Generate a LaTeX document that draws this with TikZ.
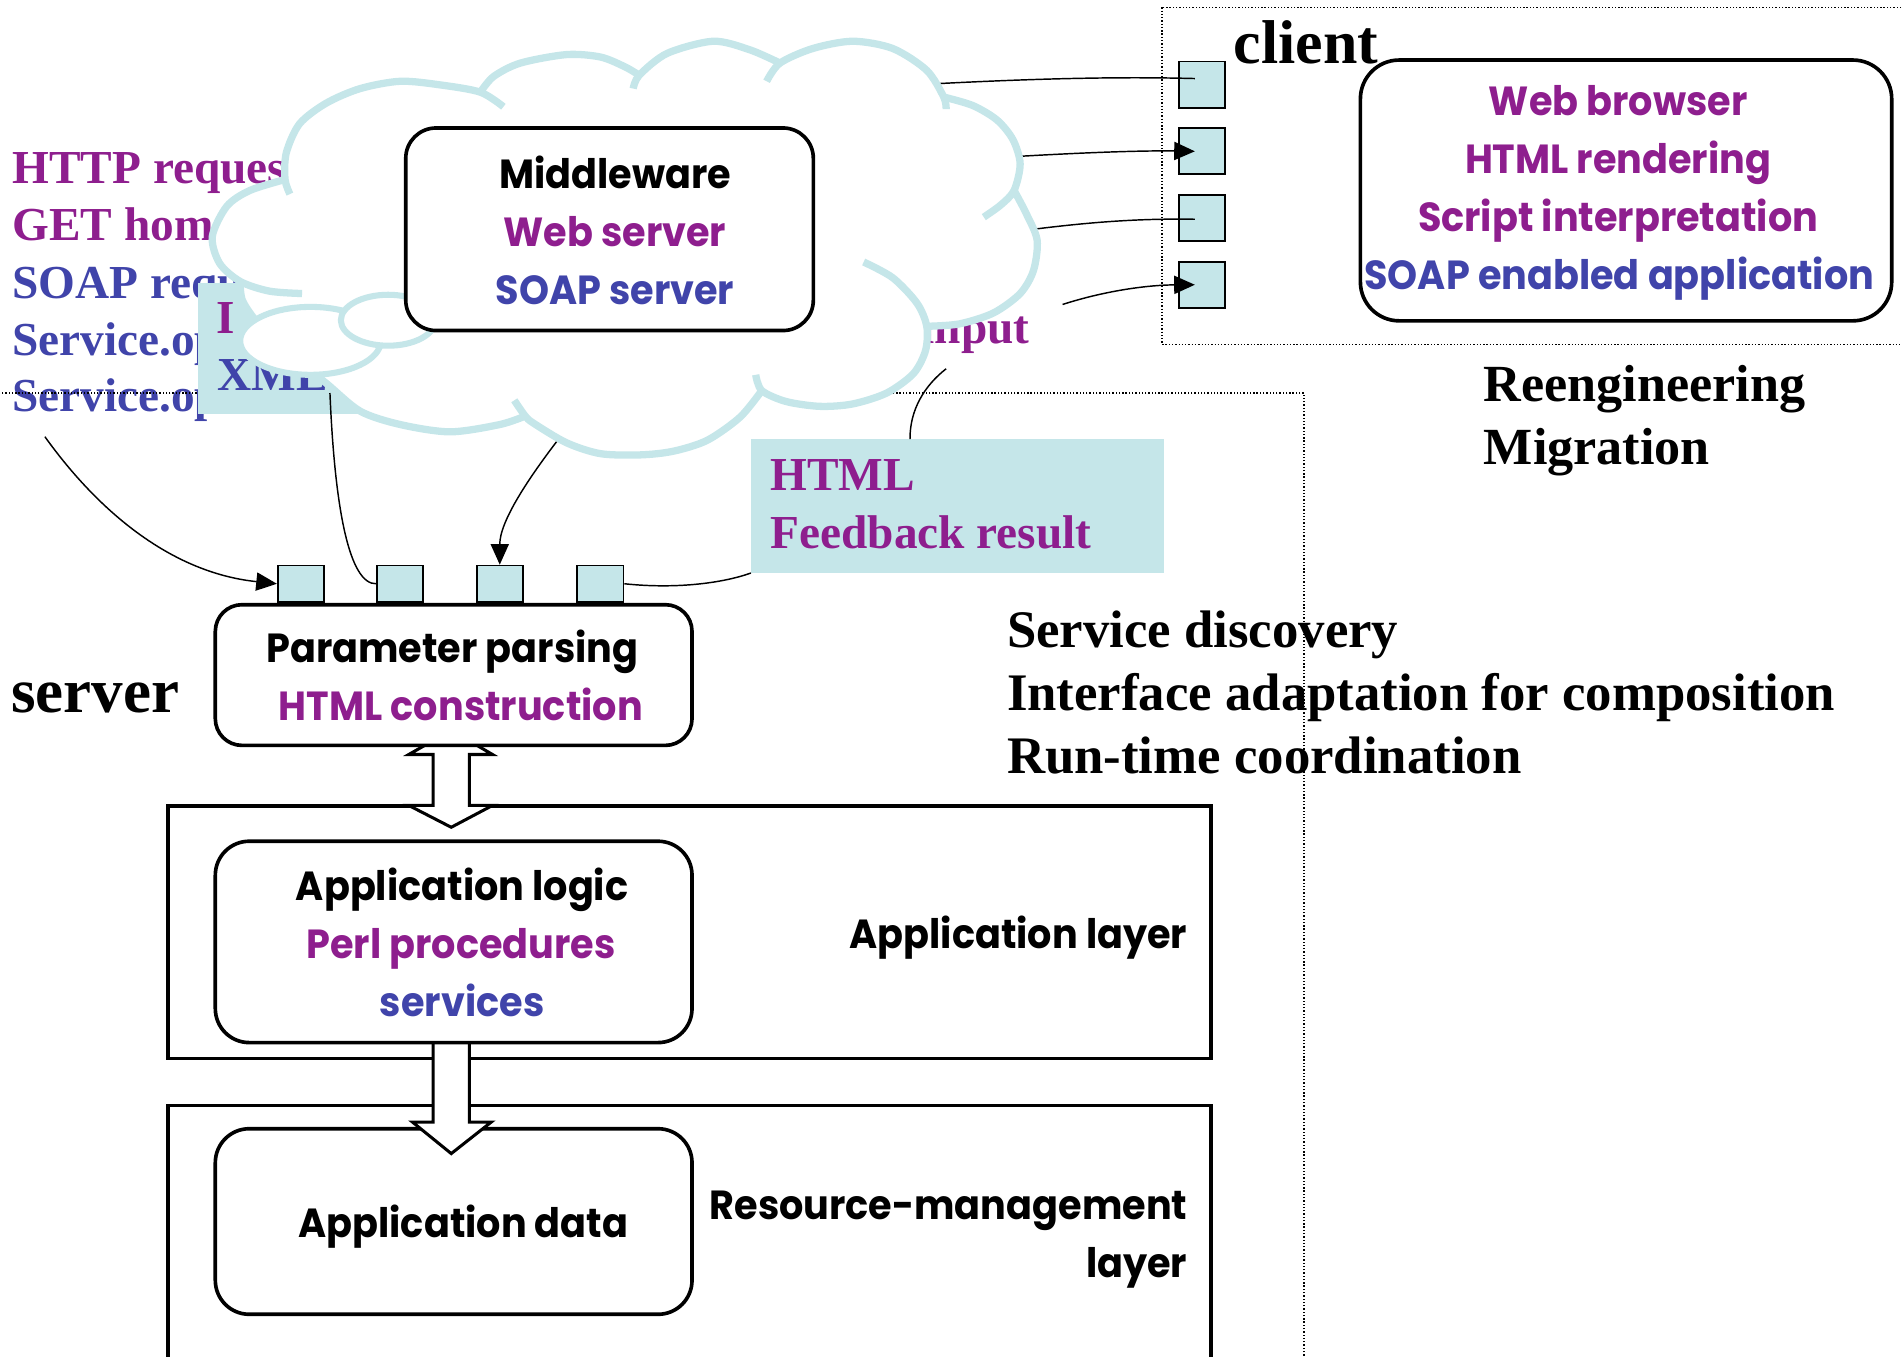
\documentclass[tikz,border=0pt]{standalone}
\usepackage{fontspec}
\setmainfont{Liberation Serif}
\newfontfamily\comicfont{Poppins}[FakeStretch=0.94]
\usetikzlibrary{arrows.meta}
\definecolor{purp}{RGB}{142,30,142}
\definecolor{blu}{RGB}{64,68,170}
\definecolor{cloudteal}{RGB}{197,230,233}
\begin{document}
\begin{tikzpicture}[x=1pt,y=-1pt,
  serif/.style={font=\bfseries\fontsize{#1}{#1}\selectfont, inner sep=0pt, anchor=base west},
  comic/.style={font=\comicfont\bfseries\fontsize{#1}{#1}\selectfont, inner sep=0pt, anchor=base},
  rbox/.style={draw=black, line width=3pt, fill=white, rounded corners=#1, inner sep=0pt, anchor=north west},
  layerbox/.style={draw=black, line width=3pt, fill=white, inner sep=0pt, anchor=north west},
  port/.style={draw=black, line width=1.5pt, fill=cloudteal, inner sep=0pt, minimum width=38pt},
  tealbox/.style={fill=cloudteal, inner sep=0pt, anchor=north west},
  dotline/.style={draw=black, line width=1.1pt, dash pattern=on 1.1pt off 1.6pt},
  conn/.style={draw=black, line width=1.2pt},
  headed/.style={-{Triangle[length=17pt,width=15pt]}},
  cloudline/.style={draw=cloudteal, line width=6pt},
  bubble/.style={draw=cloudteal, line width=5pt, fill=white},
  blockarrow/.style={draw=black, line width=2.5pt, fill=white, line join=miter}
]
\useasboundingbox (0,0) rectangle (1568,1118);

% ---------- free texts ----------
\node[serif=39, text=purp] (ltA) at (10,151) {HTTP reques};
\node[serif=39, text=purp] (ltB) at (10,198) {GET hom};
\node[serif=39, text=blu]  (ltC) at (10,246) {SOAP requ};
\node[serif=39, text=blu]  (ltD) at (10,293) {Service.op};
\node[serif=39, text=blu]  (ltE) at (10,339) {Service.op};

\node[serif=51] (clientlbl) at (1017,52) {client};
\node[serif=52] (serverlbl) at (9,587) {server};
\node[serif=43] (reeng) at (1223,331) {Reengineering};
\node[serif=43] (migr)  at (1223,383) {Migration};
\node[serif=43.5] (sdisc) at (830,534) {Service discovery};
\node[serif=43.5] (iface) at (830,586) {Interface adaptation for composition};
\node[serif=43.5] (rtime) at (830,638) {Run-time coordination};

% ---------- dotted frames ----------
\draw[dotline] (958,6) rectangle (1580,284);
\draw[dotline] (-10,324) rectangle (1075,1130);

% ---------- tinted message boxes ----------
\node[tealbox, minimum width=167pt, minimum height=108pt] (inbox) at (163,233) {};
\node[serif=39, text=purp] (inI) at (178,275) {I};
\node[serif=39, text=blu]  (inX) at (179,322) {XML};

\node[tealbox, minimum width=340pt, minimum height=110pt] (fb) at (619,362) {};
\node[serif=39, text=purp] (fbA) at (635,404) {HTML};
\node[serif=39, text=purp] (fbB) at (635,452) {Feedback result};

\node[serif=39, text=purp, anchor=base east] (inp) at (849,283) {input};

% ---------- client side ----------
\node[rbox=32pt, minimum width=438pt, minimum height=215pt] (capp) at (1120,48) {};
\node[comic=33.5, text=purp] (caA) at (1334,95)  {Web browser};
\node[comic=33.5, text=purp] (caB) at (1334,143) {HTML rendering};
\node[comic=33.5, text=purp] (caC) at (1334,191) {Script interpretation};
\node[comic=33.5, text=blu]  (caD) at (1335,239) {SOAP enabled application};

\node[port, minimum height=38pt, anchor=north] (cp1) at (991,50) {};
\node[port, minimum height=38pt, anchor=north] (cp2) at (991,105) {};
\node[port, minimum height=38pt, anchor=north] (cp3) at (991,160) {};
\node[port, minimum height=38pt, anchor=north] (cp4) at (991,215) {};

% ---------- server side ----------
\node[layerbox, minimum width=860pt, minimum height=208pt] (applayer) at (137,663) {};
\node[layerbox, minimum width=860pt, minimum height=230pt] (reslayer) at (137,910) {};
\node[rbox=28pt, minimum width=393pt, minimum height=153pt] (data) at (176,929) {};

\draw[blockarrow] (357,622) -- (337,622) -- (372,602) -- (406,622) -- (387,622)
  -- (387,664) -- (406,664) -- (372,682) -- (337,664) -- (357,664) -- cycle;
\draw[blockarrow] (357,850) -- (357,925) -- (340,925) -- (372,951) -- (405,925)
  -- (387,925) -- (387,850) -- cycle;

\node[port, minimum height=30pt, anchor=south] (sp1) at (248,497) {};
\node[port, minimum height=30pt, anchor=south] (sp2) at (330,497) {};
\node[port, minimum height=30pt, anchor=south] (sp3) at (412,497) {};
\node[port, minimum height=30pt, anchor=south] (sp4) at (495,497) {};

\node[rbox=22pt, minimum width=393pt, minimum height=116pt] (param) at (176,497) {};
\node[rbox=28pt, minimum width=393pt, minimum height=166pt] (logic) at (176,692) {};

\node[comic=33.5] (paA) at (373,546) {Parameter parsing};
\node[comic=33.5, text=purp] (paB) at (380,594) {HTML construction};
\node[comic=33.5] (loA) at (381,742) {Application logic};
\node[comic=33.5, text=purp] (loB) at (380,790) {Perl procedures};
\node[comic=33.5, text=blu] (loC) at (381,838) {services};
\node[comic=33.5] (daA) at (382,1020) {Application data};
\node[comic=33.5, anchor=base east] (lyA) at (979,782) {Application layer};
\node[comic=33.5, anchor=base east] (lyB) at (979,1005) {Resource-management};
\node[comic=33.5, anchor=base east] (lyC) at (979,1053) {layer};

% ---------- connectors ----------
\coordinate (srcA) at (37,360);
\coordinate (srcB) at (272,324);
\coordinate (srcC) at (462,360);
\coordinate (endE) at (780,304);
\coordinate (cl1) at (772,69);
\coordinate (cl2) at (838,129);
\coordinate (cl3) at (852,189);
\coordinate (cl4) at (876,251);

\draw[conn, headed] (srcA) .. controls (80,420) and (140,472) .. (sp1.west);
\draw[conn] (srcB) .. controls (276,420) and (288,482) .. (sp2.west);
\draw[conn, headed] (srcC) .. controls (435,395) and (412,430) .. (sp3.north);
\draw[conn] (sp4.east) .. controls (560,486) and (598,480) .. (fb.south west);
\draw[conn] ([xshift=-39pt]fb.north) .. controls (750,338) and (762,318) .. (endE);

\draw[conn] (cl1) .. controls (850,65) and (920,63) .. ([xshift=-6pt,yshift=5pt]cp1.center);
\draw[conn, headed] (cl2) .. controls (890,126) and (940,124) .. ([xshift=-6pt]cp2.center);
\draw[conn] (cl3) .. controls (900,183) and (940,180) .. ([xshift=-6pt,yshift=-1pt]cp3.center);
\draw[conn, headed] (cl4) .. controls (910,240) and (945,235) .. ([xshift=-6pt]cp4.center);

% ---------- cloud ----------
\fill[white]
  plot[smooth] coordinates {(235,148) (236,126) (247,102) (269,85) (297,73) (330,67) (363,70) (396,76)}
  -- plot[smooth] coordinates {(396,76) (407,63) (429,52) (467,45) (495,47) (515,55) (527,62)}
  -- plot[smooth] coordinates {(527,62) (550,44) (588,34) (618,41) (643,52)}
  -- plot[smooth] coordinates {(643,52) (670,40) (703,34) (736,40) (764,58) (778,80)}
  -- plot[smooth] coordinates {(778,80) (802,87) (822,99) (835,115) (841,135) (836,157)}
  -- plot[smooth] coordinates {(836,157) (846,176) (855,198) (852,223) (841,242) (819,258) (791,267) (764,269)}
  -- plot[smooth] coordinates {(764,269) (763,289) (753,308) (731,324) (703,333) (676,335) (648,331) (628,322)}
  -- plot[smooth] coordinates {(628,322) (610,344) (583,363) (555,372) (528,375) (495,374) (467,365) (440,349) (433,343)}
  -- plot[smooth] coordinates {(433,343) (412,350) (371,356) (330,350) (297,339) (269,316) (240,293) (214,268) (200,248) (198,232)}
  -- plot[smooth] coordinates {(198,232) (181,217) (175,195) (187,170) (206,157) (235,148)}
  -- cycle;
\draw[cloudline] plot[smooth] coordinates {(235,148) (206,157) (187,170) (175,195) (181,217) (198,232) (222,240) (249,242)};
\draw[cloudline] plot[smooth] coordinates {(239,160) (235,148) (236,126) (247,102) (269,85) (297,73) (330,67) (363,70) (396,76) (415,88)};
\draw[cloudline] plot[smooth] coordinates {(396,76) (407,63) (429,52) (467,45) (495,47) (515,55) (527,62)};
\draw[cloudline] plot[smooth] coordinates {(522,73) (527,62) (550,44) (588,34) (618,41) (643,52)};
\draw[cloudline] plot[smooth] coordinates {(632,67) (643,52) (670,40) (703,34) (736,40) (764,58) (778,80) (780,90)};
\draw[cloudline] plot[smooth] coordinates {(778,80) (802,87) (822,99) (835,115) (841,135) (836,157) (825,169) (811,179)};
\draw[cloudline] plot[smooth] coordinates {(836,157) (846,176) (855,198) (852,223) (841,242) (819,258) (791,267) (764,269)};
\draw[cloudline] plot[smooth] coordinates {(712,216) (736,229) (756,250) (764,269) (763,289) (753,308) (731,324) (703,333) (676,335) (648,331) (628,322) (623,309)};
\draw[cloudline] plot[smooth] coordinates {(628,322) (610,344) (583,363) (555,372) (528,375) (495,374) (467,365) (440,349) (433,343) (424,330)};
\draw[cloudline] plot[smooth] coordinates {(433,343) (412,350) (371,356) (330,350) (297,339) (269,316) (240,293) (214,268) (200,248) (198,232)};

\draw[bubble] (256,281) ellipse [x radius=58pt, y radius=28pt];
\draw[bubble] (320,264) ellipse [x radius=39pt, y radius=21pt];

% ---------- middleware ----------
\node[rbox=25pt, minimum width=336pt, minimum height=167pt] (mw) at (333,104) {};
\node[comic=33.5] (mwA) at (507,155) {Middleware};
\node[comic=33.5, text=purp] (mwB) at (507,203) {Web server};
\node[comic=33.5, text=blu] (mwC) at (507,251) {SOAP server};
\end{tikzpicture}
\end{document}
